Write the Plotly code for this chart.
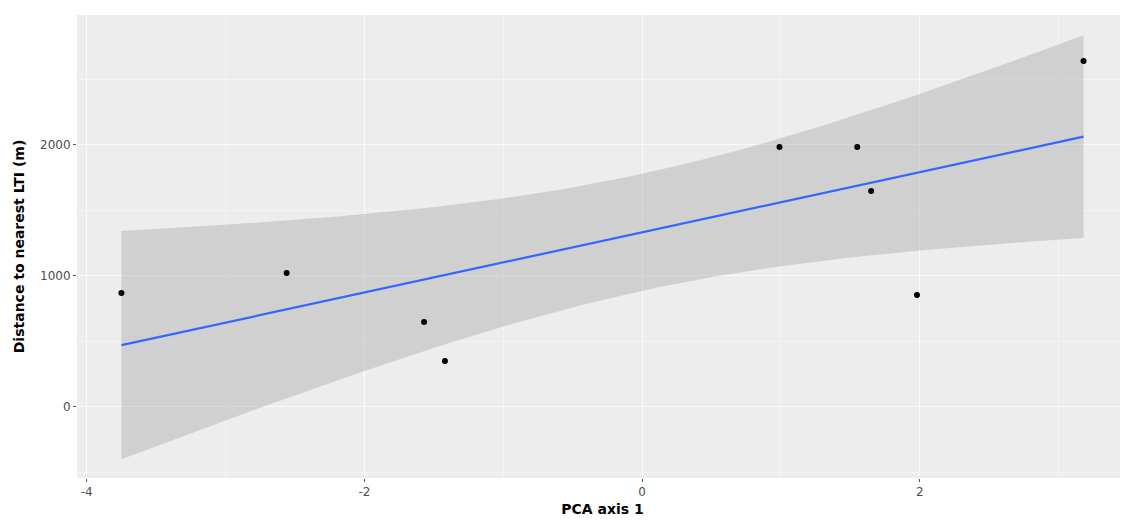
import numpy as np
import plotly.graph_objects as go

# Data
pca_axis1 = [-3.75, -2.56, -1.57, -1.42, 0.99, 1.55, 1.65, 1.98, 3.18]
distance_m = [870, 1023, 649, 351, 1985, 1985, 1649, 855, 2641]

x_ticks = [-4, -2, 0, 2]
y_ticks = [0, 1000, 2000]

# Linear fit with 95% confidence band (like geom_smooth(method="lm"))
x = np.array(pca_axis1, dtype=float)
y = np.array(distance_m, dtype=float)
n = len(x)
b1, b0 = np.polyfit(x, y, 1)
resid = y - (b0 + b1 * x)
s = np.sqrt(np.sum(resid ** 2) / (n - 2))
t_crit = 2.364624  # t(0.975, df=7)
xs = np.linspace(x.min(), x.max(), 80)
ys = b0 + b1 * xs
se = s * np.sqrt(1.0 / n + (xs - x.mean()) ** 2 / np.sum((x - x.mean()) ** 2))
lo = ys - t_crit * se
hi = ys + t_crit * se

fig = go.Figure()
fig.add_trace(go.Scatter(x=xs, y=lo, mode="lines", line=dict(width=0),
                         hoverinfo="skip", showlegend=False))
fig.add_trace(go.Scatter(x=xs, y=hi, mode="lines", line=dict(width=0),
                         fill="tonexty", fillcolor="rgba(165,165,165,0.4)",
                         hoverinfo="skip", showlegend=False))
fig.add_trace(go.Scatter(x=x, y=y, mode="markers",
                         marker=dict(color="black", size=6), showlegend=False))
fig.add_trace(go.Scatter(x=xs, y=ys, mode="lines",
                         line=dict(color="#3366FF", width=2.2), showlegend=False))

axis_common = dict(
    showgrid=True, gridcolor="#FAFAFA", gridwidth=1.2,
    zeroline=False, showline=False,
    ticks="outside", ticklen=3, tickcolor="#555555", tickwidth=1,
    tickfont=dict(family="DejaVu Sans", size=12, color="#4D4D4D"),
)

fig.update_layout(
    width=1120, height=515,
    margin=dict(l=69, r=0, t=7, b=45),
    paper_bgcolor="white", plot_bgcolor="#EDEDED",
    xaxis=dict(
        range=[-4.07, 3.5], tickvals=x_ticks, ticktext=[str(v) for v in x_ticks],
        minor=dict(tickvals=[-3, -1, 1, 3], showgrid=True, gridcolor="#F4F4F4",
                   gridwidth=0.6, ticks=""),
        title=dict(text="<b>PCA axis 1</b>", standoff=5,
                   font=dict(family="DejaVu Sans", size=14, color="black")),
        **axis_common,
    ),
    yaxis=dict(
        range=[-542, 2992], tickvals=y_ticks, ticktext=[str(v) for v in y_ticks],
        minor=dict(tickvals=[-500, 500, 1500, 2500], showgrid=True, gridcolor="#F4F4F4",
                   gridwidth=0.6, ticks=""),
        title=dict(text="<b>Distance to nearest LTI (m)</b>", standoff=12,
                   font=dict(family="DejaVu Sans", size=14, color="black")),
        **axis_common,
    ),
)

fig.write_html("out.html")
